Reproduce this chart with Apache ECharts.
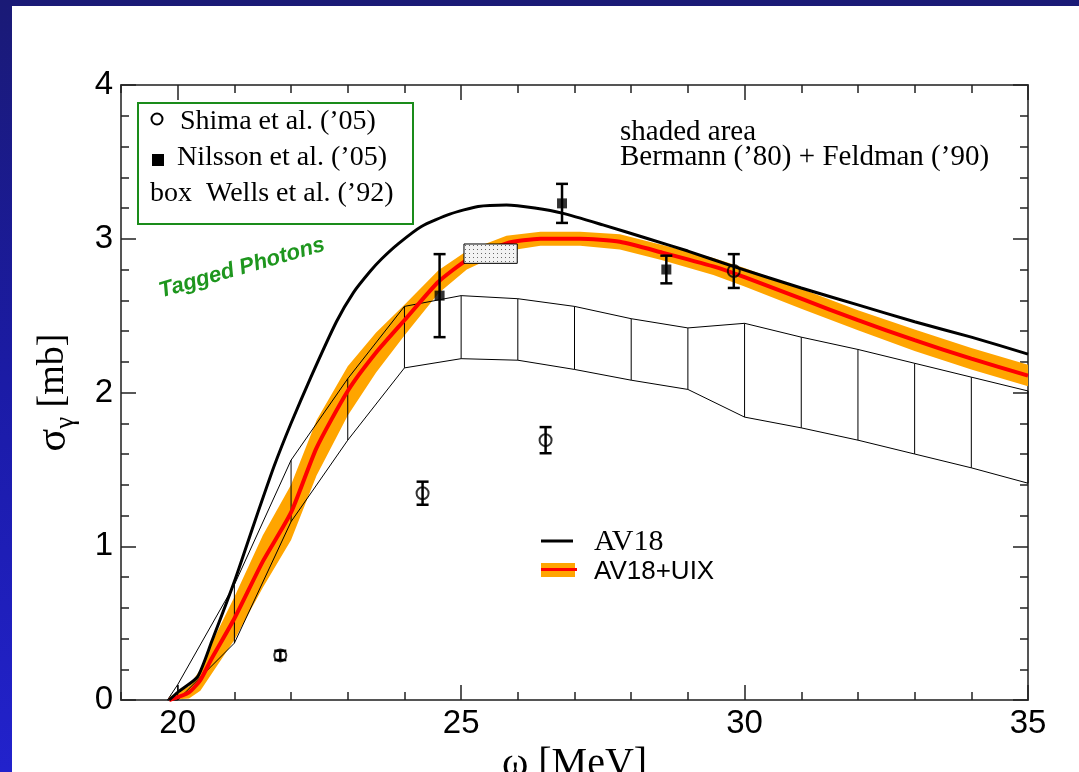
<!DOCTYPE html>
<html>
<head>
<meta charset="utf-8">
<script src="https://cdn.jsdelivr.net/npm/echarts@6/dist/echarts.min.js"></script>
<style>
html, body { margin: 0; padding: 0; width: 1079px; height: 772px; overflow: hidden; }
body { position: relative; background: linear-gradient(to bottom, #1a1a76 0%, #1b1ba6 50%, #2222cc 100%); }
#panel { position: absolute; left: 12px; top: 6px; right: 0; bottom: 0; background: #fff; }
#chart { position: absolute; left: 0; top: 0; width: 1079px; height: 772px; }
</style>
</head>
<body>
<div id="panel"></div>
<div id="chart"></div>
<script>
// AV18 (black)
const av18X = [19.85, 20.0, 20.35, 20.6, 21.0, 21.35, 21.7, 22.0, 22.35, 22.8, 23.1, 23.4, 23.6, 23.9, 24.3, 24.8, 25.3, 25.8, 26.3, 26.8, 27.5, 28.3, 29.0, 29.8, 31.0, 32.0, 33.0, 34.0, 35.0];
const av18Y = [0, 0.05, 0.15, 0.38, 0.77, 1.15, 1.52, 1.8, 2.1, 2.46, 2.65, 2.79, 2.87, 2.97, 3.08, 3.16, 3.21, 3.22, 3.2, 3.165, 3.09, 3.0, 2.92, 2.82, 2.68, 2.57, 2.46, 2.36, 2.25];
// AV18+UIX (red) and its orange band half width
const uixX = [19.85, 20.2, 20.4, 20.6, 21.0, 21.5, 22.0, 22.45, 23.0, 23.5, 24.0, 24.6, 25.1, 25.8, 26.4, 27.1, 27.8, 28.55, 29.45, 30.0, 31.0, 32.0, 33.0, 34.0, 35.0];
const uixY = [0, 0.05, 0.13, 0.27, 0.53, 0.9, 1.22, 1.64, 2.01, 2.26, 2.47, 2.72, 2.86, 2.97, 3.0, 3.0, 2.98, 2.91, 2.82, 2.75, 2.61, 2.47, 2.34, 2.22, 2.11];
const uixBand = [0.02, 0.04, 0.07, 0.1, 0.14, 0.17, 0.18, 0.18, 0.16, 0.13, 0.1, 0.075, 0.06, 0.05, 0.045, 0.045, 0.05, 0.05, 0.055, 0.06, 0.065, 0.065, 0.07, 0.07, 0.07];
// shaded area: Bermann ('80) + Feldman ('90)
const hatchX = [19.82, 20, 21, 22, 23, 24, 25, 26, 27, 28, 29, 30, 31, 32, 33, 34, 35];
const hatchUpper = [0, 0.1, 0.75, 1.56, 2.09, 2.56, 2.63, 2.61, 2.56, 2.48, 2.42, 2.45, 2.36, 2.28, 2.19, 2.1, 2.01];
const hatchLower = [0, 0, 0.37, 1.16, 1.69, 2.16, 2.22, 2.21, 2.15, 2.08, 2.02, 1.84, 1.77, 1.69, 1.6, 1.51, 1.41];
// Shima et al. ('05)
const shimaX = [21.81, 24.32, 26.49, 29.81];
const shimaY = [0.29, 1.345, 1.69, 2.79];
const shimaErr = [0.03, 0.075, 0.085, 0.11];
// Nilsson et al. ('05)
const nilssonX = [24.62, 26.78, 28.62];
const nilssonY = [2.63, 3.23, 2.8];
const nilssonErr = [0.27, 0.127, 0.09];
// Wells et al. ('92) box: [x0, x1, y0, y1]
const wellsBox = [25.05, 25.99, 2.84, 2.966];

const xMajor = [20, 25, 30, 35];

const serif = "'Liberation Serif', 'Times New Roman', serif";
const sans = "'Liberation Sans', Arial, sans-serif";
const axisColor = '#555';
const tickStyle = { color: '#222', width: 1.5 };

const chart = echarts.init(document.getElementById('chart'));

// dotted fill for the Wells box
const dots = document.createElement('canvas');
dots.width = 4; dots.height = 4;
const dctx = dots.getContext('2d');
dctx.fillStyle = '#f3f3f3'; dctx.fillRect(0, 0, 4, 4);
dctx.fillStyle = '#666'; dctx.fillRect(1, 1, 1, 1);

function pairs(xs, ys) {
  return xs.map((x, i) => [x, ys[i]]);
}

function errorBars(name, xs, ys, es) {
  return {
    name: name, type: 'custom', z: 5,
    data: xs.map((x, i) => [x, ys[i], es[i]]),
    encode: { x: 0, y: 1 },
    renderItem: function (params, api) {
      const x = api.value(0), y = api.value(1), e = api.value(2);
      const hi = api.coord([x, y + e]);
      const lo = api.coord([x, y - e]);
      const w = 6;
      const st = { stroke: '#000', lineWidth: 2.5 };
      return { type: 'group', children: [
        { type: 'line', shape: { x1: hi[0], y1: hi[1], x2: lo[0], y2: lo[1] }, style: st },
        { type: 'line', shape: { x1: hi[0] - w, y1: hi[1], x2: hi[0] + w, y2: hi[1] }, style: st },
        { type: 'line', shape: { x1: lo[0] - w, y1: lo[1], x2: lo[0] + w, y2: lo[1] }, style: st }
      ] };
    }
  };
}

function xAxisDef(pos, major) {
  return {
    type: 'value', min: 19, max: 35, interval: 1, position: pos,
    axisLine: { show: major, onZero: false, lineStyle: { color: axisColor, width: 2 } },
    axisTick: major
      ? { show: true, inside: true, length: 15, customValues: xMajor, lineStyle: tickStyle }
      : { show: true, inside: true, length: 8, lineStyle: tickStyle },
    axisLabel: (major && pos === 'bottom')
      ? { show: true, customValues: xMajor, margin: 7, fontSize: 33, color: '#000', fontFamily: sans }
      : { show: false },
    splitLine: { show: false }
  };
}

function yAxisDef(pos) {
  return {
    type: 'value', min: 0, max: 4, interval: 1, position: pos,
    axisLine: { show: true, onZero: false, lineStyle: { color: axisColor, width: 2 } },
    axisTick: { show: true, inside: true, length: 15, lineStyle: tickStyle },
    minorTick: { show: true, splitNumber: 5, length: 8, lineStyle: tickStyle },
    axisLabel: pos === 'left'
      ? { show: true, margin: 8, fontSize: 33, color: '#000', fontFamily: sans }
      : { show: false },
    splitLine: { show: false }
  };
}

const xBottom = xAxisDef('bottom', true);
xBottom.name = 'ω [MeV]';
xBottom.nameLocation = 'middle';
xBottom.nameGap = 39;
xBottom.nameTextStyle = { fontFamily: serif, fontSize: 40, color: '#000' };

const yLeft = yAxisDef('left');
yLeft.name = '{s|σ}{g|γ} [mb]';
yLeft.nameLocation = 'middle';
yLeft.nameRotate = 90;
yLeft.nameGap = 42;
yLeft.nameTextStyle = {
  fontFamily: serif, fontSize: 38, color: '#000',
  rich: {
    s: { fontFamily: serif, fontSize: 42, color: '#000' },
    g: { fontFamily: serif, fontSize: 27, color: '#000', verticalAlign: 'bottom', padding: [24, 0, 0, 0] }
  }
};

const option = {
  animation: false,
  grid: { left: 121, right: 51, top: 85, bottom: 72, containLabel: false, outerBoundsMode: 'none' },
  xAxis: [xBottom, xAxisDef('bottom', false), xAxisDef('top', true), xAxisDef('top', false)],
  yAxis: [yLeft, yAxisDef('right')],
  series: [
    {
      name: 'AV18+UIX band', type: 'custom', z: 1,
      data: [[uixX[0], 0]],
      encode: { x: 0, y: 1 },
      renderItem: function (params, api) {
        const top = uixX.map((x, i) => api.coord([x, uixY[i] + uixBand[i]]));
        const bot = uixX.map((x, i) => api.coord([x, Math.max(0, uixY[i] - uixBand[i])])).reverse();
        return { type: 'polygon', shape: { points: top.concat(bot) }, style: { fill: '#ffa500' } };
      }
    },
    {
      name: 'shaded area', type: 'custom', z: 2,
      data: [[hatchX[0], 0]],
      encode: { x: 0, y: 1 },
      renderItem: function (params, api) {
        const up = hatchX.map((x, i) => api.coord([x, hatchUpper[i]]));
        const lo = hatchX.map((x, i) => api.coord([x, hatchLower[i]]));
        const st = { stroke: '#000', lineWidth: 1, fill: null };
        const children = [
          { type: 'polyline', shape: { points: up }, style: st },
          { type: 'polyline', shape: { points: lo }, style: st }
        ];
        for (let i = 1; i < hatchX.length; i++) {
          children.push({ type: 'line', shape: { x1: up[i][0], y1: up[i][1], x2: lo[i][0], y2: lo[i][1] }, style: st });
        }
        return { type: 'group', children: children };
      }
    },
    {
      name: 'AV18+UIX', type: 'line', z: 3, smooth: 0.2,
      data: pairs(uixX, uixY), showSymbol: false,
      lineStyle: { color: '#ff0000', width: 4 }
    },
    {
      name: 'AV18', type: 'line', z: 4, smooth: 0.2,
      data: pairs(av18X, av18Y), showSymbol: false,
      lineStyle: { color: '#000', width: 3 }
    },
    {
      name: 'Wells et al. (\'92)', type: 'custom', z: 5,
      data: [[wellsBox[0], wellsBox[2]]],
      encode: { x: 0, y: 1 },
      renderItem: function (params, api) {
        const a = api.coord([wellsBox[0], wellsBox[3]]);
        const b = api.coord([wellsBox[1], wellsBox[2]]);
        return { type: 'rect', shape: { x: a[0], y: a[1], width: b[0] - a[0], height: b[1] - a[1] },
          style: { fill: { image: dots, repeat: 'repeat' }, stroke: '#000', lineWidth: 1 } };
      }
    },
    errorBars('Shima err', shimaX, shimaY, shimaErr),
    errorBars('Nilsson err', nilssonX, nilssonY, nilssonErr),
    {
      name: 'Shima et al. (\'05)', type: 'scatter', z: 6,
      data: pairs(shimaX, shimaY), symbol: 'circle', symbolSize: 12,
      itemStyle: { color: 'rgba(255,255,255,0)', borderColor: '#000', borderWidth: 2 }
    },
    {
      name: 'Nilsson et al. (\'05)', type: 'scatter', z: 6,
      data: pairs(nilssonX, nilssonY), symbol: 'rect', symbolSize: 10,
      itemStyle: { color: '#000' }
    }
  ],
  graphic: [
    // data legend box
    { type: 'rect', shape: { x: 138, y: 103, width: 275, height: 121 }, style: { fill: null, stroke: '#1a8c1a', lineWidth: 2 } },
    { type: 'circle', shape: { cx: 157, cy: 119, r: 5.5 }, style: { fill: null, stroke: '#000', lineWidth: 2 } },
    { type: 'rect', shape: { x: 152, y: 154, width: 12, height: 12 }, style: { fill: '#000' } },
    { type: 'text', x: 180, y: 122, style: { text: 'Shima et al. (’05)', font: '28px ' + serif, fill: '#000', verticalAlign: 'middle' } },
    { type: 'text', x: 177, y: 158, style: { text: 'Nilsson et al. (’05)', font: '28px ' + serif, fill: '#000', verticalAlign: 'middle' } },
    { type: 'text', x: 150, y: 194, style: { text: 'box  Wells et al. (’92)', font: '28px ' + serif, fill: '#000', verticalAlign: 'middle' } },
    // Tagged Photons
    { type: 'text', x: 242, y: 268, rotation: 0.28,
      style: { text: 'Tagged Photons', font: 'italic bold 22px ' + sans, fill: '#1e961e', align: 'center', verticalAlign: 'middle' } },
    // shaded area note
    { type: 'text', x: 620, y: 132, style: { text: 'shaded area', font: '29px ' + serif, fill: '#000', verticalAlign: 'middle' } },
    { type: 'text', x: 620, y: 157, style: { text: 'Bermann (’80) + Feldman (’90)', font: '29px ' + serif, fill: '#000', verticalAlign: 'middle' } },
    // theory legend
    { type: 'line', shape: { x1: 541, y1: 541, x2: 573, y2: 541 }, style: { stroke: '#000', lineWidth: 3 } },
    { type: 'text', x: 594, y: 542, style: { text: 'AV18', font: '30px ' + serif, fill: '#000', verticalAlign: 'middle' } },
    { type: 'rect', shape: { x: 541, y: 563, width: 34, height: 14 }, style: { fill: '#ffa500' } },
    { type: 'line', shape: { x1: 541, y1: 569.5, x2: 577, y2: 569.5 }, style: { stroke: '#ff0000', lineWidth: 3 } },
    { type: 'text', x: 594, y: 572, style: { text: 'AV18+UIX', font: '26px ' + sans, fill: '#000', verticalAlign: 'middle' } }
  ]
};

chart.setOption(option);
</script>
</body>
</html>
